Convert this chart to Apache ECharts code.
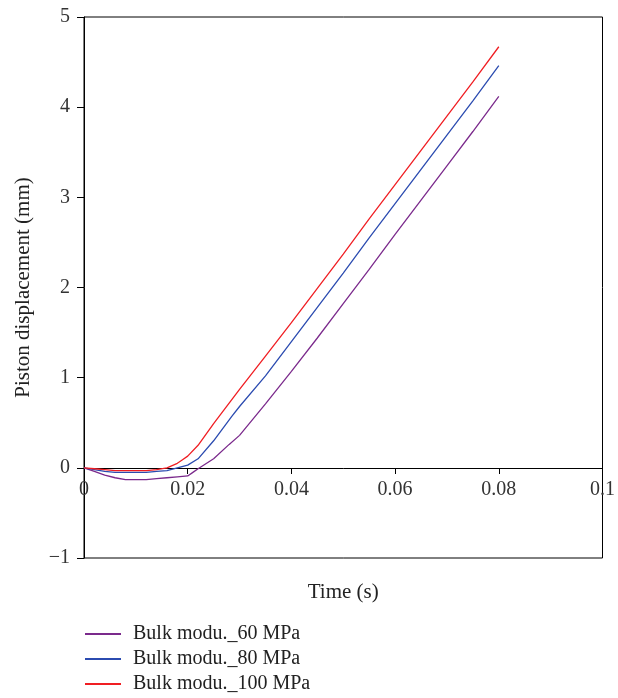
<!DOCTYPE html>
<html>
<head>
<meta charset="utf-8">
<script src="https://cdn.jsdelivr.net/npm/echarts@6/dist/echarts.min.js"></script>
<style>html,body{margin:0;padding:0;background:#fff;overflow:hidden;}#main{width:618px;height:698px;}</style>
</head>
<body>
<div id="main"></div>
<script>
var seriesNames = ['Bulk modu._60 MPa', 'Bulk modu._80 MPa', 'Bulk modu._100 MPa'];
var xTicks = [0, 0.02, 0.04, 0.06, 0.08, 0.1];
var yTicks = [-1, 0, 1, 2, 3, 4, 5];

var time60 = [0, 0.002, 0.004, 0.006, 0.008, 0.010, 0.012, 0.014, 0.016, 0.018, 0.020, 0.021, 0.022, 0.025, 0.028, 0.030, 0.035, 0.040, 0.045, 0.050, 0.055, 0.060, 0.065, 0.070, 0.075, 0.080];
var disp60 = [0, -0.04, -0.08, -0.11, -0.13, -0.13, -0.13, -0.12, -0.11, -0.10, -0.09, -0.05, -0.01, 0.10, 0.26, 0.36, 0.71, 1.07, 1.44, 1.82, 2.20, 2.59, 2.97, 3.35, 3.73, 4.12];

var time80 = [0, 0.002, 0.004, 0.006, 0.008, 0.010, 0.012, 0.014, 0.016, 0.018, 0.020, 0.022, 0.025, 0.0285, 0.030, 0.035, 0.040, 0.045, 0.050, 0.055, 0.060, 0.065, 0.070, 0.075, 0.080];
var disp80 = [0, -0.02, -0.04, -0.05, -0.05, -0.05, -0.05, -0.04, -0.03, 0.00, 0.03, 0.10, 0.30, 0.57, 0.68, 1.02, 1.40, 1.78, 2.16, 2.55, 2.93, 3.31, 3.69, 4.07, 4.46];

var time100 = [0, 0.002, 0.004, 0.006, 0.008, 0.010, 0.012, 0.014, 0.016, 0.018, 0.019, 0.020, 0.022, 0.025, 0.030, 0.035, 0.040, 0.045, 0.050, 0.055, 0.060, 0.065, 0.070, 0.075, 0.080];
var disp100 = [0, -0.01, -0.02, -0.03, -0.03, -0.03, -0.03, -0.02, 0.00, 0.05, 0.09, 0.13, 0.25, 0.49, 0.87, 1.24, 1.61, 1.99, 2.37, 2.76, 3.14, 3.52, 3.90, 4.28, 4.67];

var colors = ['#7B2A8C', '#2B4BB0', '#F01E23'];

function pairs(xs, ys) { return xs.map(function (x, i) { return [x, ys[i]]; }); }

var FONT = '"Liberation Serif", "DejaVu Serif", serif';
var chart = echarts.init(document.getElementById('main'), null, {renderer: 'canvas', width: 618, height: 698});
chart.setOption({
  animation: false,
  backgroundColor: '#fff',
  grid: {left: 84, right: 10, top: 17, bottom: 140, show: true, borderColor: '#000', borderWidth: 1, backgroundColor: 'transparent'},
  xAxis: {
    type: 'value', min: xTicks[0], max: xTicks[xTicks.length - 1], interval: 0.02,
    position: 'bottom', offset: -90,
    axisLine: {onZero: false, lineStyle: {color: '#000', width: 1}},
    axisTick: {show: true, inside: false, length: 6, lineStyle: {color: '#000'}},
    axisLabel: {color: '#333', fontFamily: FONT, fontSize: 20, margin: 12,
      formatter: function (v) { return String(Math.round(v * 100) / 100); }},
    splitLine: {show: false},
    name: 'Time (s)', nameLocation: 'middle', nameGap: 114,
    nameTextStyle: {color: '#222', fontFamily: FONT, fontSize: 21}
  },
  yAxis: {
    type: 'value', min: yTicks[0], max: yTicks[yTicks.length - 1], interval: 1,
    axisLine: {show: true, lineStyle: {color: '#000', width: 1}},
    axisTick: {show: true, inside: false, length: 7, lineStyle: {color: '#000'}},
    axisLabel: {color: '#333', fontFamily: FONT, fontSize: 20, margin: 14,
      formatter: function (v) { return v < 0 ? '\u2212' + Math.abs(v) : String(v); }},
    splitLine: {show: false},
    name: 'Piston displacement (mm)', nameLocation: 'middle', nameGap: 50,
    nameTextStyle: {color: '#222', fontFamily: FONT, fontSize: 21}
  },
  legend: {
    orient: 'vertical', left: 85, top: 624, itemGap: 5, padding: 0, height: 76,
    itemWidth: 36, itemHeight: 2, icon: 'rect',
    textStyle: {color: '#222', fontFamily: FONT, fontSize: 20, padding: [0, 0, 0, 7]},
    data: seriesNames
  },
  series: [
    {name: seriesNames[0], type: 'line', data: pairs(time60, disp60), showSymbol: false, symbol: 'none', lineStyle: {width: 1.3, color: colors[0]}, itemStyle: {color: colors[0]}},
    {name: seriesNames[1], type: 'line', data: pairs(time80, disp80), showSymbol: false, symbol: 'none', lineStyle: {width: 1.3, color: colors[1]}, itemStyle: {color: colors[1]}},
    {name: seriesNames[2], type: 'line', data: pairs(time100, disp100), showSymbol: false, symbol: 'none', lineStyle: {width: 1.3, color: colors[2]}, itemStyle: {color: colors[2]}}
  ]
});
</script>
</body>
</html>
